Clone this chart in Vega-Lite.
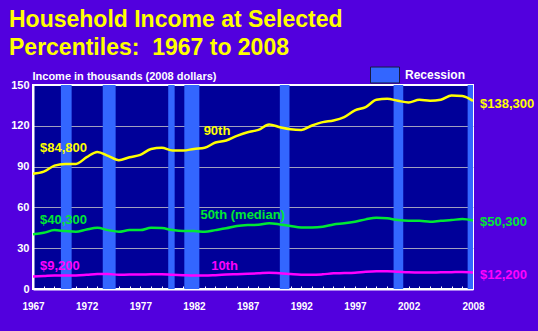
{
"$schema": "https://vega.github.io/schema/vega-lite/v6.json",
"width": 440, "height": 204,
"autosize": {"type": "none"},
"padding": {"left": 33, "top": 85, "right": 65, "bottom": 42},
"background": "#5200DE",
"title": {"text": ["Household Income at Selected", "Percentiles:\u00a0 1967 to 2008"], "anchor": "start", "frame": "group", "color": "#FFFF00", "font": "Liberation Sans", "fontWeight": "bold", "fontSize": 23, "lineHeight": 28, "dx": -24, "offset": 0},
"config": {
  "view": {"fill": "#000099", "stroke": "#FFFFFF", "strokeWidth": 2},
  "axis": {"labelColor": "#FFFFFF", "labelFont": "Liberation Sans", "labelFontWeight": "bold", "domainColor": "#FFFFFF", "domainWidth": 2},
  "axisX": {"labelOverlap": false, "labelFlush": false, "labelBound": false}
},
"resolve": {"axis": {"x": "independent"}},
"datasets": {
  "recessions": [
    {"start": 1969.6, "end": 1970.6},
    {"start": 1973.5, "end": 1974.7},
    {"start": 1979.6, "end": 1980.2},
    {"start": 1981.1, "end": 1982.5},
    {"start": 1990.0, "end": 1990.9},
    {"start": 2000.6, "end": 2001.5},
    {"start": 2007.5, "end": 2008.0}
  ],
  "income": [
    {"year":1967,"pct":"90th","value":84.8},{"year":1968,"pct":"90th","value":86.3},{"year":1969,"pct":"90th","value":90.7},{"year":1970,"pct":"90th","value":92.0},{"year":1971,"pct":"90th","value":92.0},{"year":1972,"pct":"90th","value":96.9},{"year":1973,"pct":"90th","value":100.8},{"year":1974,"pct":"90th","value":97.9},{"year":1975,"pct":"90th","value":94.7},{"year":1976,"pct":"90th","value":96.9},{"year":1977,"pct":"90th","value":98.6},{"year":1978,"pct":"90th","value":103.0},{"year":1979,"pct":"90th","value":103.8},{"year":1980,"pct":"90th","value":101.8},{"year":1981,"pct":"90th","value":101.8},{"year":1982,"pct":"90th","value":103.0},{"year":1983,"pct":"90th","value":103.8},{"year":1984,"pct":"90th","value":107.7},{"year":1985,"pct":"90th","value":109.2},{"year":1986,"pct":"90th","value":112.6},{"year":1987,"pct":"90th","value":115.3},{"year":1988,"pct":"90th","value":117.0},{"year":1989,"pct":"90th","value":120.9},{"year":1990,"pct":"90th","value":119.0},{"year":1991,"pct":"90th","value":117.5},{"year":1992,"pct":"90th","value":117.0},{"year":1993,"pct":"90th","value":120.2},{"year":1994,"pct":"90th","value":122.7},{"year":1995,"pct":"90th","value":123.9},{"year":1996,"pct":"90th","value":126.4},{"year":1997,"pct":"90th","value":131.3},{"year":1998,"pct":"90th","value":133.8},{"year":1999,"pct":"90th","value":139.1},{"year":2000,"pct":"90th","value":139.9},{"year":2001,"pct":"90th","value":138.4},{"year":2002,"pct":"90th","value":137.2},{"year":2003,"pct":"90th","value":139.1},{"year":2004,"pct":"90th","value":138.4},{"year":2005,"pct":"90th","value":139.1},{"year":2006,"pct":"90th","value":142.3},{"year":2007,"pct":"90th","value":141.9},{"year":2008,"pct":"90th","value":138.3},
    {"year":1967,"pct":"50th","value":40.3},{"year":1968,"pct":"50th","value":41.3},{"year":1969,"pct":"50th","value":43.3},{"year":1970,"pct":"50th","value":42.6},{"year":1971,"pct":"50th","value":42.1},{"year":1972,"pct":"50th","value":43.8},{"year":1973,"pct":"50th","value":45.0},{"year":1974,"pct":"50th","value":43.3},{"year":1975,"pct":"50th","value":42.1},{"year":1976,"pct":"50th","value":43.3},{"year":1977,"pct":"50th","value":43.3},{"year":1978,"pct":"50th","value":45.0},{"year":1979,"pct":"50th","value":44.8},{"year":1980,"pct":"50th","value":43.3},{"year":1981,"pct":"50th","value":42.6},{"year":1982,"pct":"50th","value":42.6},{"year":1983,"pct":"50th","value":42.1},{"year":1984,"pct":"50th","value":43.3},{"year":1985,"pct":"50th","value":44.6},{"year":1986,"pct":"50th","value":46.3},{"year":1987,"pct":"50th","value":47.0},{"year":1988,"pct":"50th","value":47.2},{"year":1989,"pct":"50th","value":48.3},{"year":1990,"pct":"50th","value":47.5},{"year":1991,"pct":"50th","value":46.3},{"year":1992,"pct":"50th","value":45.3},{"year":1993,"pct":"50th","value":45.3},{"year":1994,"pct":"50th","value":45.8},{"year":1995,"pct":"50th","value":47.5},{"year":1996,"pct":"50th","value":48.3},{"year":1997,"pct":"50th","value":49.5},{"year":1998,"pct":"50th","value":51.2},{"year":1999,"pct":"50th","value":52.4},{"year":2000,"pct":"50th","value":52.0},{"year":2001,"pct":"50th","value":50.7},{"year":2002,"pct":"50th","value":50.2},{"year":2003,"pct":"50th","value":50.2},{"year":2004,"pct":"50th","value":49.5},{"year":2005,"pct":"50th","value":50.2},{"year":2006,"pct":"50th","value":50.7},{"year":2007,"pct":"50th","value":51.4},{"year":2008,"pct":"50th","value":50.3},
    {"year":1967,"pct":"10th","value":9.2},{"year":1968,"pct":"10th","value":9.6},{"year":1969,"pct":"10th","value":10.0},{"year":1970,"pct":"10th","value":9.9},{"year":1971,"pct":"10th","value":9.9},{"year":1972,"pct":"10th","value":10.4},{"year":1973,"pct":"10th","value":11.1},{"year":1974,"pct":"10th","value":11.0},{"year":1975,"pct":"10th","value":10.5},{"year":1976,"pct":"10th","value":10.6},{"year":1977,"pct":"10th","value":10.6},{"year":1978,"pct":"10th","value":10.8},{"year":1979,"pct":"10th","value":10.8},{"year":1980,"pct":"10th","value":10.4},{"year":1981,"pct":"10th","value":10.1},{"year":1982,"pct":"10th","value":9.9},{"year":1983,"pct":"10th","value":9.9},{"year":1984,"pct":"10th","value":10.2},{"year":1985,"pct":"10th","value":10.6},{"year":1986,"pct":"10th","value":10.9},{"year":1987,"pct":"10th","value":11.2},{"year":1988,"pct":"10th","value":11.5},{"year":1989,"pct":"10th","value":11.9},{"year":1990,"pct":"10th","value":11.6},{"year":1991,"pct":"10th","value":11.0},{"year":1992,"pct":"10th","value":10.5},{"year":1993,"pct":"10th","value":10.4},{"year":1994,"pct":"10th","value":10.8},{"year":1995,"pct":"10th","value":11.5},{"year":1996,"pct":"10th","value":11.7},{"year":1997,"pct":"10th","value":12.0},{"year":1998,"pct":"10th","value":12.6},{"year":1999,"pct":"10th","value":13.0},{"year":2000,"pct":"10th","value":13.1},{"year":2001,"pct":"10th","value":12.7},{"year":2002,"pct":"10th","value":12.3},{"year":2003,"pct":"10th","value":12.1},{"year":2004,"pct":"10th","value":12.1},{"year":2005,"pct":"10th","value":12.3},{"year":2006,"pct":"10th","value":12.4},{"year":2007,"pct":"10th","value":12.5},{"year":2008,"pct":"10th","value":12.2}
  ],
  "labels": [
    {"year": 1967.65, "value": 103.8, "text": "$84,800", "pct": "90th"},
    {"year": 1982.9, "value": 115.9, "text": "90th", "pct": "90th"},
    {"year": 1967.65, "value": 50.9, "text": "$40,300", "pct": "50th"},
    {"year": 1982.6, "value": 54.5, "text": "50th (median)", "pct": "50th"},
    {"year": 1967.65, "value": 17.0, "text": "$9,200", "pct": "10th"},
    {"year": 1983.6, "value": 17.0, "text": "10th", "pct": "10th"}
  ],
  "endlabels": [
    {"year": 2008, "value": 136.2, "text": "$138,300", "pct": "90th"},
    {"year": 2008, "value": 49.4, "text": "$50,300", "pct": "50th"},
    {"year": 2008, "value": 10.3, "text": "$12,200", "pct": "10th"}
  ]
},
"layer": [
  {
    "data": {"name": "recessions"},
    "mark": {"type": "rect", "opacity": 1, "strokeWidth": 0},
    "encoding": {
      "x": {"field": "start", "type": "quantitative", "scale": {"domain": [1967, 2008], "nice": false, "zero": false},
        "axis": {"orient": "bottom", "values": [1967,1968,1969,1970,1971,1972,1973,1974,1975,1976,1977,1978,1979,1980,1981,1982,1983,1984,1985,1986,1987,1988,1989,1990,1991,1992,1993,1994,1995,1996,1997,1998,1999,2000,2001,2002,2003,2004,2005,2006,2007,2008],
          "labels": false, "title": null, "grid": false, "tickSize": -3, "tickColor": "#FFFFFF", "tickWidth": 1}},
      "x2": {"field": "end"},
      "color": {"datum": "Recession", "scale": {"range": ["#3366FF"]},
        "legend": {"title": null, "orient": "none", "legendX": 337, "legendY": -25, "padding": 0, "symbolType": "M-1,-0.55L1,-0.55L1,0.55L-1,0.55Z", "symbolSize": 841, "symbolStrokeColor": "#1A1A40", "symbolStrokeWidth": 1, "symbolOpacity": 1, "labelColor": "#FFFFFF", "labelFont": "Liberation Sans", "labelFontWeight": "bold", "labelFontSize": 12, "labelOffset": 5}}
    }
  },
  {
    "data": {"name": "income"},
    "mark": {"type": "line", "strokeWidth": 2.5, "interpolate": "monotone"},
    "encoding": {
      "x": {"field": "year", "type": "quantitative",
        "axis": {"orient": "bottom", "values": [1967, 1972, 1977, 1982, 1987, 1992, 1997, 2002, 2008], "format": "d", "title": null, "grid": false, "ticks": false, "domain": false, "labelPadding": 12, "labelFontSize": 10}},
      "y": {"field": "value", "type": "quantitative", "scale": {"domain": [0, 150], "nice": false},
        "axis": {"values": [0, 30, 60, 90, 120, 150], "grid": true, "gridColor": "#A0A0C0", "gridWidth": 1,
          "gridOpacity": {"condition": {"test": "datum.value == 0 || datum.value == 150", "value": 0}, "value": 1},
          "ticks": false, "labelPadding": 4, "labelFontSize": 11,
          "title": "Income in thousands (2008 dollars)", "titleAngle": 0, "titleAlign": "left", "titleBaseline": "middle", "titleX": -1, "titleY": -9, "titleColor": "#FFFFFF", "titleFont": "Liberation Sans", "titleFontWeight": "bold", "titleFontSize": 11}},
      "stroke": {"field": "pct", "type": "nominal", "scale": {"domain": ["90th", "50th", "10th"], "range": ["#FFFF00", "#00E833", "#FF00FF"]}, "legend": null}
    }
  },
  {
    "data": {"name": "labels"},
    "mark": {"type": "text", "align": "left", "baseline": "middle", "font": "Liberation Sans", "fontWeight": "bold", "fontSize": 13},
    "encoding": {
      "x": {"field": "year", "type": "quantitative", "axis": null},
      "y": {"field": "value", "type": "quantitative"},
      "text": {"field": "text"},
      "fill": {"field": "pct", "type": "nominal", "scale": {"domain": ["90th", "50th", "10th"], "range": ["#FFFF00", "#00E833", "#FF00FF"]}, "legend": null}
    }
  },
  {
    "data": {"name": "endlabels"},
    "mark": {"type": "text", "align": "left", "baseline": "middle", "dx": 7, "font": "Liberation Sans", "fontWeight": "bold", "fontSize": 13},
    "encoding": {
      "x": {"field": "year", "type": "quantitative", "axis": null},
      "y": {"field": "value", "type": "quantitative"},
      "text": {"field": "text"},
      "fill": {"field": "pct", "type": "nominal", "legend": null}
    }
  }
]
}
